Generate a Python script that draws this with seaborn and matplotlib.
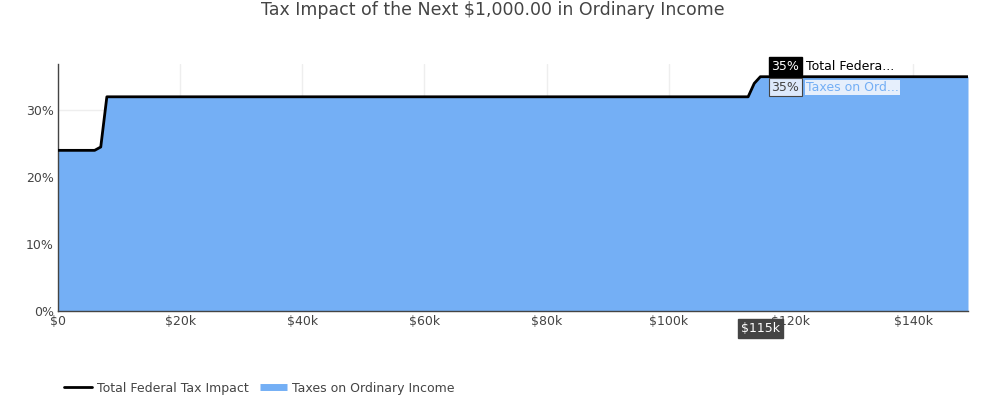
import matplotlib
matplotlib.use("Agg")
import matplotlib.pyplot as plt
import matplotlib.ticker as mticker
from matplotlib.lines import Line2D
import seaborn as sns
import pandas as pd

# ---------------- Data ----------------
income = [0, 6000, 7000, 8000, 113000, 114000, 115000, 149000]
total_federal = [24, 24, 24.5, 32, 32, 34, 35, 35]
ordinary_income = [24, 24, 24.5, 32, 32, 34, 35, 35]
x_ticks = [0, 20000, 40000, 60000, 80000, 100000, 120000, 140000]
y_ticks = [0, 10, 20, 30]

df = pd.DataFrame({"Income": income, "Total": total_federal, "Ordinary": ordinary_income})

sns.set_style("white")
plt.rcParams["font.family"] = ["DejaVu Sans"]

fig = plt.figure(figsize=(9.85, 4.19), dpi=100)
ax = fig.add_axes([58 / 985, 108 / 419, 910 / 985, 247 / 419])

blue = "#74aff5"
ax.fill_between(df["Income"], df["Ordinary"], 0, color=blue, linewidth=0, zorder=2)
sns.lineplot(data=df, x="Income", y="Ordinary", ax=ax, color=blue, linewidth=1, zorder=2)
sns.lineplot(data=df, x="Income", y="Total", ax=ax, color="black", linewidth=2, zorder=3)

ax.set_xlim(0, 149000)
ax.set_ylim(0, 36.9)
ax.set_xticks(x_ticks)
ax.set_yticks(y_ticks)
ax.xaxis.set_major_formatter(mticker.FuncFormatter(lambda v, p: "$0" if v == 0 else f"${int(v / 1000)}k"))
ax.yaxis.set_major_formatter(mticker.FuncFormatter(lambda v, p: f"{int(v)}%"))
ax.grid(True, color="#eeeeee", linewidth=1, zorder=0)
ax.set_axisbelow(True)
ax.set_xlabel("")
ax.set_ylabel("")
ax.tick_params(axis="both", labelsize=9, colors="#444444", length=0, pad=3)
for s in ["top", "right"]:
    ax.spines[s].set_visible(False)
ax.spines["left"].set_color("#444444")
ax.spines["bottom"].set_color("#444444")
ax.spines["left"].set_linewidth(1)
ax.spines["bottom"].set_linewidth(1)

fig.text(0.5, 1 - 10 / 419, "Tax Impact of the Next $1,000.00 in Ordinary Income",
         ha="center", va="center", fontsize=12.5, color="#444444")

# hover labels
ax.annotate("35%", xy=(115000, 35), xytext=(116800, 36.6), fontsize=9, color="white",
            va="center", ha="left",
            bbox=dict(boxstyle="square,pad=0.2", fc="black", ec="black"), zorder=6)
ax.text(122500, 36.6, "Total Federa...", fontsize=9, color="black", va="center", ha="left",
        bbox=dict(boxstyle="square,pad=0.1", fc="white", ec="none", alpha=0.85), zorder=6)
ax.text(116800, 33.4, "35%", fontsize=9, color="#444444", va="center", ha="left",
        bbox=dict(boxstyle="square,pad=0.2", fc="#dde9fb", ec="#444444", lw=0.8), zorder=6)
ax.text(122500, 33.4, "Taxes on Ord...", fontsize=9, color=blue, va="center", ha="left",
        bbox=dict(boxstyle="square,pad=0.1", fc="#e6effc", ec="none"), zorder=6)
ax.annotate("$115k", xy=(115000, 0), xycoords=("data", "axes fraction"),
            xytext=(115000, -2.6), textcoords=("data", "data"),
            fontsize=9, color="white", ha="center", va="center", annotation_clip=False,
            bbox=dict(boxstyle="square,pad=0.25", fc="#444444", ec="#444444"), zorder=6)

handles = [Line2D([0], [0], color="black", lw=2),
           Line2D([0], [0], color=blue, lw=5, solid_capstyle="butt")]
fig.legend(handles, ["Total Federal Tax Impact", "Taxes on Ordinary Income"],
           loc="center left", bbox_to_anchor=(53 / 985, 1 - 388 / 419), ncol=2,
           frameon=False, fontsize=9, handlelength=2.2, columnspacing=0.9,
           labelcolor="#444444", handletextpad=0.4)

fig.savefig("out.png", dpi=100)
